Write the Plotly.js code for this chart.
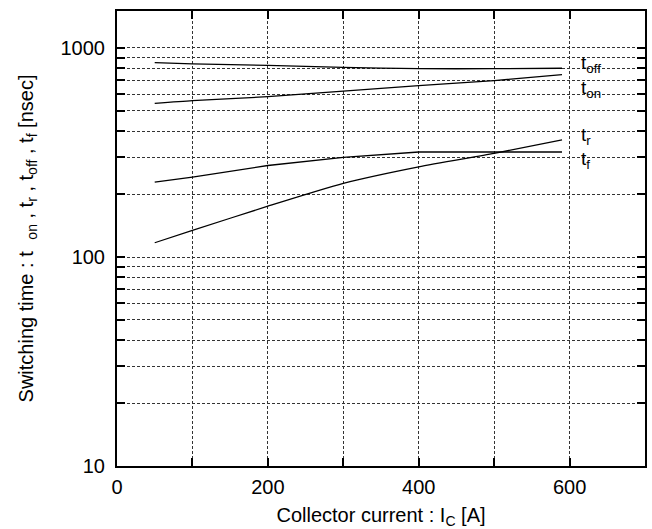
<!DOCTYPE html>
<html>
<head>
<meta charset="utf-8">
<script src="https://cdn.plot.ly/plotly-3.0.1.min.js"></script>
<style>html,body{margin:0;padding:0;background:#fff;}#chart{width:652px;height:529px;}</style>
</head>
<body>
<div id="chart"></div>
<script>
// Collector current [A]
const currentIC = [50, 100, 200, 300, 400, 500, 590];
// Switching times [nsec]
const tOff = [851, 840, 826, 808, 796, 796, 800];
const tOn  = [543, 560, 585, 622, 660, 698, 745];
const tR   = [117, 134, 175, 225, 270, 313, 363];
const tF   = [228, 241, 274, 300, 318, 318, 318];

const seriesNames = ['t<sub>off</sub>', 't<sub>on</sub>', 't<sub>r</sub>', 't<sub>f</sub>'];
const labelY = [840, 640, 380, 290];
const labelX = 612;

const xMajorTicks = [0, 200, 400, 600];
const xMinorTicks = [100, 300, 500, 700];
const yMajorTicks = [10, 100, 1000];
const yMinorTicks = [20,30,40,50,60,70,80,90,200,300,400,500,600,700,800,900];

const fontFam = "'Liberation Sans', Arial, sans-serif";
const allSeries = [tOff, tOn, tR, tF];
const traces = allSeries.map((ys, i) => ({
  x: currentIC, y: ys, type: 'scatter', mode: 'lines',
  name: seriesNames[i],
  line: i === 3 ? {color: '#000', width: 1.3} : {color: '#000', width: 1.3, shape: 'spline', smoothing: 0.6},
  showlegend: false, hoverinfo: 'skip'
}));

const annotations = seriesNames.map((n, i) => ({
  x: labelX, y: Math.log10(labelY[i]), xref: 'x', yref: 'y',
  text: n, showarrow: false, xanchor: 'left', yanchor: 'middle',
  font: {family: fontFam, size: 19, color: '#000'}
}));

const gridStyle = {gridcolor: '#333', griddash: '3px,2px', gridwidth: 1};
const layout = {
  width: 652, height: 529,
  margin: {l: 117, r: 7, t: 11, b: 63},
  paper_bgcolor: '#fff', plot_bgcolor: '#fff',
  font: {family: fontFam, size: 20, color: '#000'},
  xaxis: Object.assign({
    range: [0, 700], tickmode: 'array', tickvals: xMajorTicks,
    ticks: 'inside', ticklen: 8, tickwidth: 2, tickcolor: '#000',
    showline: true, linecolor: '#000', linewidth: 2, mirror: 'ticks',
    showgrid: true, zeroline: false,
    tickfont: {size: 20}, ticklabelstandoff: 2,
    minor: Object.assign({tickvals: xMinorTicks, ticks: 'inside', ticklen: 8, tickwidth: 2, tickcolor: '#000', showgrid: true}, gridStyle),
    title: {text: 'Collector current : I<sub>C</sub> [A]', font: {size: 20}, standoff: 14}
  }, gridStyle),
  yaxis: Object.assign({
    type: 'log', range: [1, 3.177], tickmode: 'array', tickvals: yMajorTicks,
    ticks: 'inside', ticklen: 8, tickwidth: 2, tickcolor: '#000',
    showline: true, linecolor: '#000', linewidth: 2, mirror: 'ticks',
    showgrid: true, zeroline: false,
    tickfont: {size: 20}, ticklabelstandoff: 6,
    minor: Object.assign({tickvals: yMinorTicks, ticks: 'inside', ticklen: 8, tickwidth: 2, tickcolor: '#000', showgrid: true}, gridStyle),
    title: {text: 'Switching time : t<sub>   on</sub> , t<sub>r</sub> , t<sub>off</sub> , t<sub>f</sub> [nsec]', font: {size: 20}, standoff: 22}
  }, gridStyle),
  annotations: annotations
};

Plotly.newPlot('chart', traces, layout, {staticPlot: true, displayModeBar: false});
</script>
</body>
</html>
